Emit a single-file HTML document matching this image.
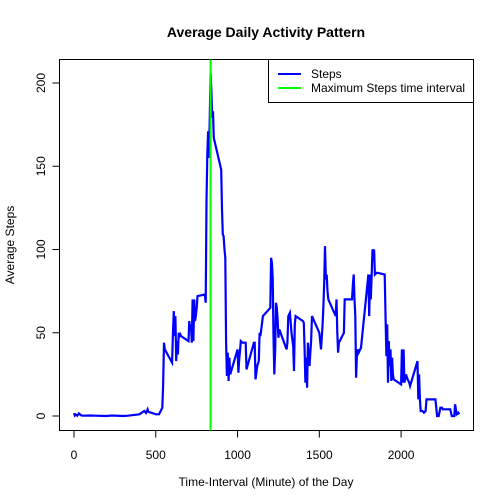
<!DOCTYPE html>
<html><head><meta charset="utf-8"><style>
body{margin:0;background:#fff;}
svg{display:block;font-family:"Liberation Sans",Arial,sans-serif;}
</style></head><body>
<svg id="chart" width="504" height="504" viewBox="0 0 504 504">
<rect width="504" height="504" fill="#fff"/>
<text x="266" y="37" text-anchor="middle" font-size="14" font-weight="bold">Average Daily Activity Pattern</text>
<rect x="59.5" y="59.5" width="414" height="371" fill="none" stroke="#000" stroke-width="1"/>
<g id="xaxis"></g>
<g id="yaxis"></g>
<text x="266" y="486" text-anchor="middle" font-size="12">Time-Interval (Minute) of the Day</text>
<text x="0" y="0" transform="translate(14,245) rotate(-90)" text-anchor="middle" font-size="12">Average Steps</text>
<polyline id="steps-line" fill="none" stroke="#0000ff" stroke-width="2.2" stroke-linejoin="miter"/>
<line id="max-line" stroke="#00ff00" stroke-width="2"/>
<g>
<rect x="268.5" y="59.5" width="205" height="43" fill="#fff" stroke="#000"/>
<line x1="278" y1="74" x2="301" y2="74" stroke="#0000ff" stroke-width="2"/>
<text x="311" y="78" font-size="12">Steps</text>
<line x1="278" y1="88" x2="301" y2="88" stroke="#00ff00" stroke-width="2"/>
<text x="311" y="92" font-size="12">Maximum Steps time interval</text>
</g>
</svg>
<script>
const intervals = [
0,5,10,20,30,45,55,
100,130,
200,230,
300,330,
400,430,440,450,455,
500,520,530,540,545,550,555,
600,605,610,615,620,625,630,635,640,645,650,655,
700,705,710,715,720,725,730,735,740,745,750,755,
800,805,810,815,820,825,830,835,840,845,850,855,
900,905,910,915,920,925,930,935,940,945,950,955,
1000,1005,1010,1015,1020,1030,1040,1050,1055,
1100,1105,1110,1120,1130,1135,1140,1150,1155,
1200,1205,1210,1215,1220,1225,1230,1235,1240,1245,1250,1255,
1300,1305,1310,1320,1330,1340,1345,1350,1355,
1400,1405,1410,1415,1420,1425,1430,1440,1450,1455,
1500,1510,1520,1525,1530,1535,1540,1545,1550,1555,
1600,1605,1610,1615,1620,1625,1630,1640,1650,1655,
1700,1705,1710,1715,1720,1725,1730,1735,1740,1750,1755,
1800,1805,1810,1815,1820,1825,1830,1835,1840,1850,1855,
1900,1905,1910,1915,1920,1925,1930,1935,1940,1945,1950,1955,
2000,2005,2010,2015,2020,2030,2040,2050,2055,
2100,2105,2110,2115,2120,2130,2140,2150,2155,
2200,2210,2220,2230,2240,2250,2255,
2300,2310,2320,2325,2330,2340,2350,2355];
const steps = [
1.7,0.3,0.9,0.2,1.5,0.3,0.2,
0.3,0.2,
0,0.3,
0,0.2,
1,3,1.8,4,2.5,
1,1,3,5,18,44,40,
32,49,63,48,60,33,45,37,50,48,49,48,
45,57,52,55,44,70,45,70,57,60,65,72,
73,68,129,157,171,155,177,206,195,179,183,167,
148,124,109,108,100,95,44,24,38,21,35,25,
40,26,34,39,45,44,44,44,28,
44,44,22,30,33,50,48,56,60,
65,95,92,83,48,25,40,68,65,58,47,52,
40,44,60,62,50,42,27,55,60,
57,56,40,20,35,17,44,30,45,60,
50,40,55,66,80,102,82,85,75,70,
60,70,50,38,45,45,46,48,50,70,
70,79,85,70,60,23,36,40,38,40,41,
85,60,85,70,85,100,99,100,85,86,86,
85,58,36,55,20,45,30,40,21,35,25,22,
19,40,20,40,20,25,22,20,18,
33,10,25,10,3,3,2,3,10,
10,10,0,0,5,5,4,
4,0,0,0,7,1,2,1];
const xTicks = [0,500,1000,1500,2000];
const yTicks = [0,50,100,150,200];
const maxInterval = 835;

const NS = "http://www.w3.org/2000/svg";
function xs(v){ return 74 + v*0.16355; }
function ys(v){ return 416 - v*1.665; }

const n = Math.min(intervals.length, steps.length);
const pts = [];
for (let i=0;i<n;i++) pts.push(xs(intervals[i]).toFixed(1)+','+ys(steps[i]).toFixed(1));
document.getElementById('steps-line').setAttribute('points', pts.join(' '));
const ml = document.getElementById('max-line');
ml.setAttribute('x1', xs(maxInterval)); ml.setAttribute('x2', xs(maxInterval));
ml.setAttribute('y1', 59.5); ml.setAttribute('y2', 430.5);

const xg = document.getElementById('xaxis');
xTicks.forEach(t=>{
  const l = document.createElementNS(NS,'line');
  
  
  l.setAttribute('x1', xs(t)); l.setAttribute('x2', xs(t));
  l.setAttribute('y1', 430.5); l.setAttribute('y2', 437.5);
  l.setAttribute('stroke', '#000');
  xg.appendChild(l);
  const tx = document.createElementNS(NS,'text');
  
  
  tx.setAttribute('x', xs(t)); tx.setAttribute('y', 459);
  tx.setAttribute('text-anchor', 'middle'); tx.setAttribute('font-size', '12');
  tx.textContent = t;
  xg.appendChild(tx);
});
const yg = document.getElementById('yaxis');
yTicks.forEach(t=>{
  const l = document.createElementNS(NS,'line');
  
  
  l.setAttribute('x1', 52.5); l.setAttribute('x2', 59.5);
  l.setAttribute('y1', ys(t)); l.setAttribute('y2', ys(t));
  l.setAttribute('stroke', '#000');
  yg.appendChild(l);
  const tx = document.createElementNS(NS,'text');
  
  
  tx.setAttribute('transform', 'translate(45,'+ys(t)+') rotate(-90)');
  tx.setAttribute('text-anchor', 'middle'); tx.setAttribute('font-size', '12');
  tx.textContent = t;
  yg.appendChild(tx);
});
</script>
</body></html>
